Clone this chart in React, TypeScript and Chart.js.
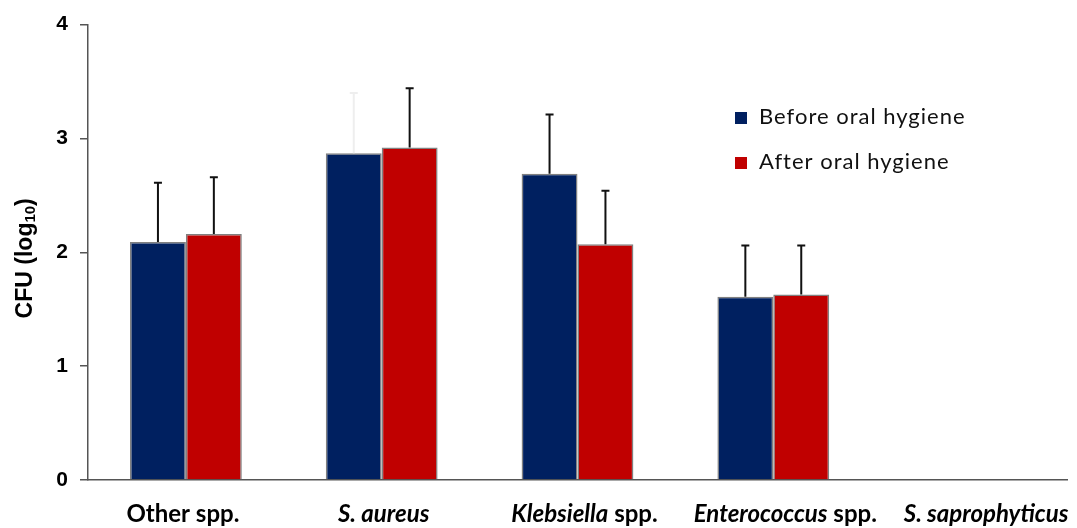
import React, { useEffect, useRef } from 'react';
import { Chart, registerables } from 'chart.js';

Chart.register(...registerables);

// Categories; each label is split into pieces so genus names can be italic.
const categories = ['Other spp.', 'S. aureus', 'Klebsiella spp.', 'Enterococcus spp.', 'S. saprophyticus'];
const categoryParts: [string, boolean][][] = [
  [['Other spp.', false]],
  [['S. aureus', true]],
  [['Klebsiella', true], [' spp.', false]],
  [['Enterococcus', true], [' spp.', false]],
  [['S. saprophyticus', true]],
];

const seriesNames = ['Before oral hygiene', 'After oral hygiene'];
const beforeValues = [2.09, 2.87, 2.69, 1.61, null];
const afterValues = [2.16, 2.92, 2.07, 1.63, null];
const beforeErrors = [0.52, 0.53, 0.52, 0.45, null];
const afterErrors = [0.5, 0.52, 0.47, 0.43, null];
const yTicks = [0, 1, 2, 3, 4];

const BLUE = '#002060';
const RED = '#C00000';
const AXIS = '#555555';

const errorSets = [beforeErrors, afterErrors];
// the before-hygiene whisker for S. aureus is printed almost invisibly pale
const errorColors = [
  ['#111', '#eeeeee', '#111', '#111', '#111'],
  ['#111', '#111', '#111', '#111', '#111'],
];

const errorBarPlugin = {
  id: 'errorBars',
  afterDatasetsDraw(chart: any) {
    const { ctx } = chart;
    const y = chart.scales.y;
    errorSets.forEach((errs, d) => {
      const meta = chart.getDatasetMeta(d);
      const vals = chart.data.datasets[d].data;
      meta.data.forEach((bar: any, i: number) => {
        const v = vals[i];
        const e = errs[i];
        if (v == null || e == null) return;
        const top = y.getPixelForValue(v + e);
        ctx.save();
        ctx.strokeStyle = errorColors[d][i];
        ctx.lineWidth = 2;
        ctx.beginPath();
        ctx.moveTo(bar.x, bar.y);
        ctx.lineTo(bar.x, top);
        ctx.moveTo(bar.x - 4, top);
        ctx.lineTo(bar.x + 4, top);
        ctx.stroke();
        ctx.restore();
      });
    });
  },
};

const LABEL_FONT = 'Lato, "Open Sans", sans-serif';

const textPlugin = {
  id: 'texts',
  afterDraw(chart: any) {
    const { ctx } = chart;
    const xs = chart.scales.x;
    const ys = chart.scales.y;

    // category labels with mixed italic / upright pieces
    ctx.save();
    ctx.fillStyle = '#000';
    ctx.textBaseline = 'alphabetic';
    ctx.textAlign = 'left';
    categoryParts.forEach((parts, i) => {
      const cx = xs.getPixelForValue(i) + 5 * i - 3;
      let total = 0;
      const widths = parts.map(([t, it]) => {
        ctx.font = `${it ? 'italic ' : ''}bold 24px ${LABEL_FONT}`;
        const w = ctx.measureText(t).width;
        total += w;
        return w;
      });
      let x = cx - total / 2;
      parts.forEach(([t, it], k) => {
        ctx.font = `${it ? 'italic ' : ''}bold 24px ${LABEL_FONT}`;
        ctx.fillText(t, x, 522);
        x += widths[k];
      });
    });
    ctx.restore();

    // y-axis title with subscript
    ctx.save();
    ctx.translate(26, (ys.top + ys.bottom) / 2 + 6);
    ctx.rotate(-Math.PI / 2);
    ctx.fillStyle = '#000';
    ctx.textBaseline = 'middle';
    ctx.textAlign = 'left';
    const mainFont = 'bold 23px Arial, "Liberation Sans", sans-serif';
    const subFont = 'bold 15px Arial, "Liberation Sans", sans-serif';
    const p1 = 'CFU (log';
    const p2 = '10';
    const p3 = ')';
    ctx.font = mainFont;
    const w1 = ctx.measureText(p1).width;
    const w3 = ctx.measureText(p3).width;
    ctx.font = subFont;
    const w2 = ctx.measureText(p2).width;
    let x = -(w1 + w2 + w3) / 2;
    ctx.font = mainFont;
    ctx.fillText(p1, x, 0);
    x += w1;
    ctx.font = subFont;
    ctx.fillText(p2, x, 5);
    x += w2;
    ctx.font = mainFont;
    ctx.fillText(p3, x, 0);
    ctx.restore();

    // legend
    ctx.save();
    ctx.font = `22px ${LABEL_FONT}`;
    (ctx as any).letterSpacing = '1px';
    ctx.textBaseline = 'alphabetic';
    ctx.textAlign = 'left';
    const colors = [BLUE, RED];
    seriesNames.forEach((name, i) => {
      const base = 124 + i * 45;
      ctx.fillStyle = colors[i];
      ctx.fillRect(735, base - 12, 12, 12);
      ctx.fillStyle = '#111';
      ctx.fillText(name, 759, base);
    });
    ctx.restore();
  },
};

export default function App() {
  const ref = useRef<HTMLCanvasElement>(null);

  useEffect(() => {
    if (!ref.current) return;
    const chart = new Chart(ref.current, {
      type: 'bar',
      data: {
        labels: categories,
        datasets: [
          {
            label: seriesNames[0],
            data: beforeValues,
            backgroundColor: BLUE,
            borderColor: '#808080',
            borderWidth: 1.5,
          },
          {
            label: seriesNames[1],
            data: afterValues,
            backgroundColor: RED,
            borderColor: '#808080',
            borderWidth: 1.5,
          },
        ],
      },
      options: {
        responsive: false,
        animation: false,
        devicePixelRatio: 1,
        layout: { padding: { top: 24, right: 10, left: 0, bottom: 0 } },
        datasets: { bar: { categoryPercentage: 0.571, barPercentage: 1 } },
        plugins: {
          legend: { display: false },
          tooltip: { enabled: false },
        },
        scales: {
          x: {
            grid: { display: false },
            border: { display: true, color: AXIS, width: 1.5 },
            ticks: { display: false },
            afterFit: (s: any) => {
              s.height = 48;
            },
          },
          y: {
            min: 0,
            max: 4,
            afterBuildTicks: (s: any) => {
              s.ticks = yTicks.map((v) => ({ value: v }));
            },
            grid: { drawOnChartArea: false, drawTicks: true, tickLength: 8, color: AXIS, lineWidth: 1.5 },
            border: { display: true, color: AXIS, width: 1.5 },
            ticks: {
              color: '#000',
              padding: 12,
              font: { family: 'Arial, "Liberation Sans", sans-serif', size: 21, weight: 'bold' },
            },
            afterFit: (s: any) => {
              s.width = 88;
            },
          },
        },
      },
      plugins: [errorBarPlugin, textPlugin],
    });
    return () => chart.destroy();
  }, []);

  return (
    <div style={{ position: 'absolute', left: 0, top: 0, width: 1077, height: 528, background: '#fff' }}>
      <canvas ref={ref} width={1077} height={528} />
    </div>
  );
}
